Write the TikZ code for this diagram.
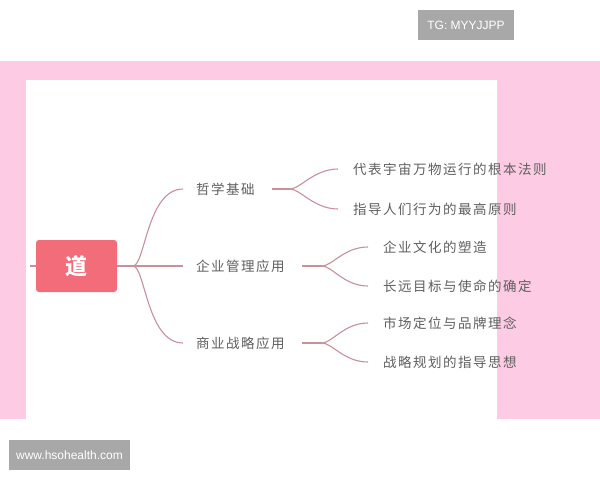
\documentclass[tikz,border=0pt]{standalone}
\usepackage{fontspec}
\setmainfont{Liberation Sans}
\newfontfamily\cjk[LetterSpace=11]{Noto Sans CJK SC}
\definecolor{bandpink}{RGB}{253, 203, 227}
\definecolor{rootred}{RGB}{243, 108, 122}
\definecolor{linkpink}{RGB}{200, 144, 156}
\definecolor{txtgray}{RGB}{95, 95, 95}
\definecolor{tagegray}{RGB}{168, 168, 168}
\usetikzlibrary{positioning, calc}

\tikzset{
  link/.style={linkpink, line width=1.1pt},
  topic/.style={anchor=west, inner xsep=0pt, font=\cjk\fontsize{13.5}{15}\selectfont, text=txtgray},
  leaf/.style={topic},
  tag/.style={fill=tagegray, text=white, font=\fontsize{12}{14}\selectfont, inner sep=0pt}
}

\begin{document}
\begin{tikzpicture}[x=1pt, y=-1pt]
  \useasboundingbox (0, 0) rectangle (600, 480);
  % Background band and white sheet
  \fill[bandpink] (0, 61) rectangle (600, 419);
  \fill[white] (26, 80) rectangle (497, 419);

  % Watermark tags
  \node[tag, minimum width=96pt, minimum height=30pt] (tgtag) at (466, 25) {TG: MYYJJPP};
  \node[tag, minimum width=121pt, minimum height=30pt] (webtag) at (69.5, 455) {www.hsohealth.com};

  % Root
  \node[fill=rootred, rounded corners=3pt, minimum width=81pt, minimum height=52pt,
        text=white, font=\cjk\bfseries\fontsize{22}{24}\selectfont] (dao) at (76.5, 266) {道};
  \coordinate (stub) at (30, 266);
  \coordinate (hub) at (133, 266);
  \draw[link] (stub) -- (dao.west);
  \draw[link] (dao.east) -- (hub);

  % First level
  \node[topic] (phil) at (196, 189) {哲学基础};
  \node[topic] (mgmt) at (196, 266) {企业管理应用};
  \node[topic] (biz) at (196, 343) {商业战略应用};
  \foreach \t in {phil, mgmt, biz}
    \draw[link] (hub) .. controls +(12, 0) and +(-36, 0) .. ([xshift=-13pt]\t.west);

  % Second level
  \node[leaf] (phila) at (353, 169) {代表宇宙万物运行的根本法则};
  \node[leaf] (philb) at (353, 209) {指导人们行为的最高原则};
  \node[leaf] (mgmta) at (383, 247) {企业文化的塑造};
  \node[leaf] (mgmtb) at (383, 286) {长远目标与使命的确定};
  \node[leaf] (biza) at (383, 323) {市场定位与品牌理念};
  \node[leaf] (bizb) at (383, 362) {战略规划的指导思想};
  \coordinate (philhub) at (290, 189);
  \coordinate (mgmthub) at (322, 266);
  \coordinate (bizhub) at (322, 343);
  \draw[link] ([xshift=17pt]phil.east) -- (philhub);
  \draw[link] ([xshift=17pt]mgmt.east) -- (mgmthub);
  \draw[link] ([xshift=17pt]biz.east) -- (bizhub);
  \foreach \h/\a/\b in {philhub/phila/philb, mgmthub/mgmta/mgmtb, bizhub/biza/bizb} {
    \draw[link] (\h) .. controls +(10, 0) and +(-24, 0) .. ([xshift=-15pt]\a.west);
    \draw[link] (\h) .. controls +(10, 0) and +(-24, 0) .. ([xshift=-15pt]\b.west);
  }
\end{tikzpicture}
\end{document}
